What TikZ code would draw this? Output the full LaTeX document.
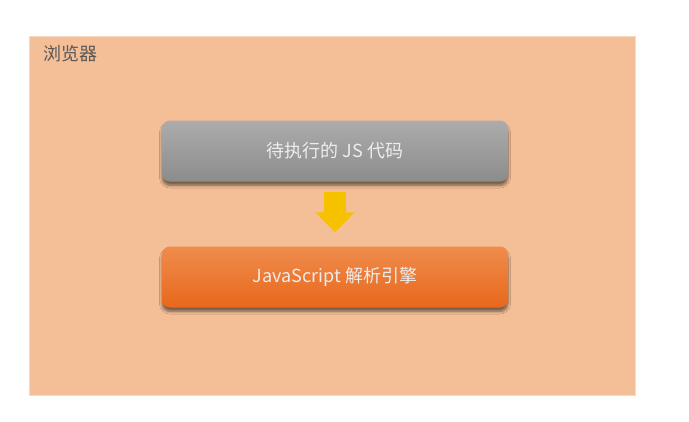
\documentclass[tikz,border=0pt]{standalone}
\usepackage{fontspec}
\setmainfont{Noto Sans CJK SC}
\definecolor{browserpeach}{RGB}{244, 190, 150}
\definecolor{codegraytop}{RGB}{172, 172, 172}
\definecolor{codegraybot}{RGB}{140, 140, 140}
\definecolor{engineorangetop}{RGB}{239, 140, 76}
\definecolor{engineorangebot}{RGB}{232, 104, 28}
\definecolor{arrowyellow}{RGB}{246, 194, 0}
\definecolor{labelgray}{RGB}{88, 88, 88}
\usetikzlibrary{positioning,shadows.blur,arrows.meta}

\begin{document}
\begin{tikzpicture}[x=1pt,y=-1pt,
    stagebox/.style={rounded corners=8pt, minimum width=346pt, minimum height=61pt,
        inner sep=0pt, text=white!93!black, font=\fontsize{18}{22}\selectfont,
        blur shadow={shadow xshift=0pt, shadow yshift=-4pt, shadow blur radius=2.5pt,
            shadow blur steps=6, shadow opacity=50}},
    flow/.style={line width=22pt, arrowyellow, -{Triangle[width=38pt,length=20pt]}}]
    \useasboundingbox (0,0) rectangle (689,421);
    \fill[white] (0,0) rectangle (689,421);
    \fill[browserpeach] (29,36) rectangle (635,395);
    \draw[browserpeach!60!white, line width=1pt] (29,36) rectangle (635,395);
    \node[anchor=west, text=labelgray, font=\fontsize{18}{22}\selectfont] (browser) at (40,54) {浏览器};
    \node[stagebox, top color=codegraytop, bottom color=codegraybot] (code) at (335,151) {待执行的 JS 代码};
    \node[stagebox, top color=engineorangetop, bottom color=engineorangebot] (engine) at (335,277) {JavaScript 解析引擎};
    \draw[flow] ([yshift=-10pt]code.south) -- ([yshift=14pt]engine.north);
\end{tikzpicture}
\end{document}
